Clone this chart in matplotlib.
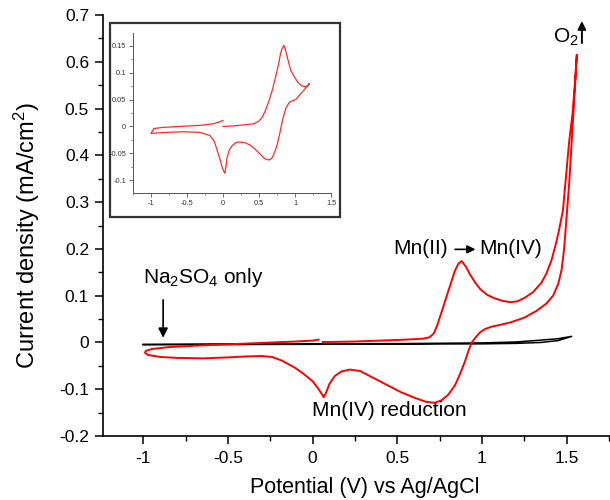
import numpy as np
import matplotlib
matplotlib.use("Agg")
import matplotlib.pyplot as plt
from matplotlib.ticker import MultipleLocator, FuncFormatter
from matplotlib.patches import Rectangle

plt.rcParams['font.family'] = ['Liberation Sans', 'DejaVu Sans']
plt.rcParams['mathtext.default'] = 'regular'

# ---- main CV (Mn containing electrolyte), path order ----
cv_v = [0.035, 0.0, -0.1, -0.3, -0.5, -0.7, -0.85, -0.95, -0.985, -0.99,
        -0.97, -0.9, -0.8, -0.65, -0.5, -0.4, -0.3, -0.24, -0.18, -0.1, -0.05, 0.0, 0.03,
        0.05, 0.065, 0.08, 0.1, 0.13, 0.17, 0.22, 0.28, 0.36, 0.44, 0.52, 0.6, 0.67, 0.72,
        0.76, 0.8, 0.84, 0.87, 0.9, 0.92, 0.94, 0.965, 0.99, 1.02, 1.06, 1.1, 1.17, 1.25,
        1.32, 1.38, 1.42, 1.45, 1.47, 1.485, 1.5, 1.515, 1.53, 1.545, 1.56,
        1.55, 1.535, 1.515, 1.495, 1.478, 1.455, 1.436, 1.41, 1.38, 1.35, 1.3, 1.25, 1.21,
        1.17, 1.12, 1.07, 1.03, 0.99, 0.96, 0.93, 0.905, 0.88, 0.86, 0.84, 0.815, 0.795,
        0.775, 0.755, 0.735, 0.715, 0.69, 0.65, 0.55, 0.4, 0.25, 0.1, 0.06]
cv_j = [0.006, 0.004, 0.002, -0.001, -0.004, -0.007, -0.010, -0.014, -0.018, -0.022,
        -0.027, -0.031, -0.033, -0.034, -0.032, -0.030, -0.029, -0.031, -0.039, -0.055, -0.068, -0.083, -0.097,
        -0.108, -0.117, -0.107, -0.088, -0.072, -0.062, -0.058, -0.061, -0.076, -0.091, -0.106, -0.118, -0.127, -0.129,
        -0.124, -0.112, -0.092, -0.068, -0.040, -0.018, 0.0, 0.012, 0.022, 0.029, 0.034, 0.037, 0.043, 0.053,
        0.067, 0.083, 0.100, 0.125, 0.155, 0.200, 0.270, 0.340, 0.430, 0.520, 0.615,
        0.560, 0.490, 0.430, 0.350, 0.282, 0.240, 0.210, 0.175, 0.147, 0.127, 0.107, 0.095, 0.088,
        0.086, 0.089, 0.095, 0.102, 0.114, 0.128, 0.145, 0.162, 0.174, 0.168, 0.153, 0.125, 0.103,
        0.080, 0.058, 0.036, 0.019, 0.011, 0.008, 0.006, 0.004, 0.002, 0.001, 0.001]

# ---- Na2SO4 only (blank) ----
na_v = [-1.0, -0.5, 0.0, 0.5, 1.0, 1.2, 1.35, 1.45, 1.53,
        1.45, 1.35, 1.2, 1.0, 0.5, 0.0, -0.5, -1.0]
na_j = [-0.004, -0.0035, -0.003, -0.0025, -0.001, 0.001, 0.005, 0.008, 0.013,
        0.004, 0.0, -0.002, -0.003, -0.0035, -0.004, -0.0045, -0.005]

# ---- inset CV ----
in_v = [0.0, -0.06, -0.13, -0.32, -0.6, -0.85, -0.96, -1.0, -0.9, -0.78, -0.55, -0.32,
        -0.18, -0.12, -0.08, -0.04, -0.01, 0.015, 0.025, 0.04, 0.057, 0.09, 0.127, 0.18,
        0.22, 0.3, 0.38, 0.45, 0.52, 0.57, 0.615, 0.655, 0.685, 0.72, 0.755, 0.79, 0.825,
        0.87, 0.92, 0.97, 1.01, 1.08, 1.14, 1.2, 1.17, 1.13, 1.08, 1.035, 0.98, 0.94, 0.9,
        0.87, 0.845, 0.82, 0.8, 0.77, 0.73, 0.69, 0.64, 0.59, 0.545, 0.5, 0.43, 0.3, 0.15, 0.0]
in_j = [0.011, 0.008, 0.005, 0.002, 0.0, -0.002, -0.004, -0.013, -0.012, -0.011, -0.010, -0.011,
        -0.017, -0.028, -0.045, -0.062, -0.077, -0.085, -0.087, -0.075, -0.058, -0.043, -0.036, -0.030,
        -0.029, -0.030, -0.035, -0.043, -0.052, -0.059, -0.062, -0.062, -0.058, -0.047, -0.033, -0.012, 0.011,
        0.033, 0.045, 0.048, 0.050, 0.061, 0.070, 0.080, 0.075, 0.074, 0.077, 0.083, 0.095, 0.105, 0.125,
        0.142, 0.151, 0.145, 0.136, 0.115, 0.092, 0.070, 0.048, 0.030, 0.017, 0.010, 0.005, 0.003, 0.001, 0.0]

x_ticks = [-1, -0.5, 0, 0.5, 1, 1.5]
y_ticks = [-0.2, -0.1, 0, 0.1, 0.2, 0.3, 0.4, 0.5, 0.6, 0.7]
in_y_ticks = [-0.1, -0.05, 0, 0.05, 0.1, 0.15]

W, H = 610, 500
fig = plt.figure(figsize=(W / 100, H / 100), dpi=100)

def fx(px):
    return px / W

def fy(py):
    return 1 - py / H

fmt = FuncFormatter(lambda v, p: '%g' % round(v, 3))

# main axes
ax = fig.add_axes([fx(103), fy(436), fx(610) - fx(103), fy(15) - fy(436)])
ax.plot(na_v, na_j, color='black', lw=1.1, zorder=2)
ax.plot(cv_v, cv_j, color='#ff0000', lw=1.4, zorder=3)
ax.set_xlim(-1.238, 1.756)
ax.set_ylim(-0.2, 0.7)
ax.set_xticks(x_ticks)
ax.set_yticks(y_ticks)
ax.xaxis.set_minor_locator(MultipleLocator(0.25))
ax.yaxis.set_minor_locator(MultipleLocator(0.05))
ax.xaxis.set_major_formatter(fmt)
ax.yaxis.set_major_formatter(fmt)
for s in ['top', 'right']:
    ax.spines[s].set_visible(False)
for s in ['left', 'bottom']:
    ax.spines[s].set_linewidth(1.2)
ax.tick_params(which='major', direction='out', length=6, width=1.1, labelsize=12.5, pad=4)
ax.tick_params(which='minor', direction='out', length=3.5, width=1.0)
ax.tick_params(axis='x', pad=5)
ax.set_xlabel('Potential (V) vs Ag/AgCl', fontsize=15.5)
ax.set_ylabel('Current density (mA/cm$^2$)', fontsize=17)
ax.xaxis.set_label_coords((365 - 103) / 507, -(477 - 436) / 421)
ax.yaxis.set_label_coords(-(103 - 42) / 507, (436 - 236) / 421)

# annotations
ax.text(-1.0, 0.138, 'Na$_2$SO$_4$ only', fontsize=15, ha='left', va='center')
ax.annotate('', xy=(-0.883, 0.004), xytext=(-0.883, 0.097),
            arrowprops=dict(arrowstyle='-|>', color='black', lw=1.2, mutation_scale=14))
ax.text(0.475, 0.2, 'Mn(II)', fontsize=15, ha='left', va='center')
ax.annotate('', xy=(0.978, 0.199), xytext=(0.825, 0.199),
            arrowprops=dict(arrowstyle='-|>', color='black', lw=1.2, mutation_scale=12))
ax.text(0.982, 0.2, 'Mn(IV)', fontsize=15, ha='left', va='center')
ax.text(-0.005, -0.146, 'Mn(IV) reduction', fontsize=15, ha='left', va='center')
ax.text(1.42, 0.652, 'O$_2$', fontsize=15, ha='left', va='center')
ax.annotate('', xy=(1.59, 0.693), xytext=(1.59, 0.634),
            arrowprops=dict(arrowstyle='-|>', color='black', lw=1.4, mutation_scale=12),
            annotation_clip=False)

# inset frame
frame = Rectangle((fx(110), fy(217)), fx(340) - fx(110), fy(23) - fy(217),
                  transform=fig.transFigure, fill=True, facecolor='white',
                  edgecolor='#333333', lw=1.6, zorder=5)
fig.patches.append(frame)

iax = fig.add_axes([fx(133), fy(193), fx(331) - fx(133), fy(33) - fy(193)], zorder=6)
iax.patch.set_alpha(0)
iax.plot(in_v, in_j, color='#ff2a2a', lw=0.9)
iax.set_xlim(-1.25, 1.5)
iax.set_ylim(-0.124, 0.174)
iax.set_xticks(x_ticks)
iax.set_yticks(in_y_ticks)
iax.xaxis.set_minor_locator(MultipleLocator(0.25))
iax.yaxis.set_minor_locator(MultipleLocator(0.025))
iax.xaxis.set_major_formatter(fmt)
iax.yaxis.set_major_formatter(fmt)
for s in ['top', 'right']:
    iax.spines[s].set_visible(False)
for s in ['left', 'bottom']:
    iax.spines[s].set_linewidth(0.7)
    iax.spines[s].set_color('#555555')
iax.tick_params(which='major', direction='out', length=3, width=0.6, labelsize=5.3,
                colors='#555555', labelcolor='#333333', pad=2)
iax.tick_params(which='minor', direction='out', length=1.5, width=0.5, colors='#555555')

fig.savefig('out.png', dpi=100, facecolor='white')
